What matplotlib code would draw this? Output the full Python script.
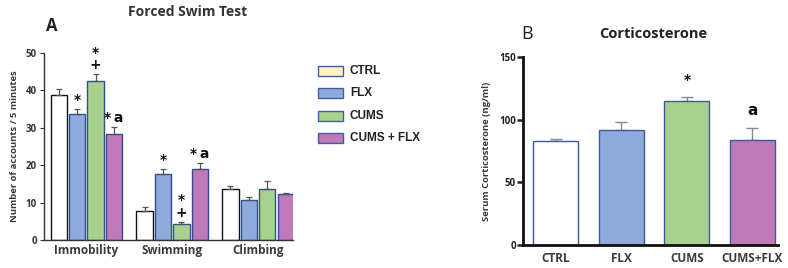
import matplotlib
matplotlib.use("Agg")
import matplotlib.pyplot as plt
import numpy as np
from matplotlib.patches import Rectangle

# ---- data ----
groups = ["CTRL", "FLX", "CUMS", "CUMS + FLX"]
fst_categories = ["Immobility", "Swimming", "Climbing"]
fst_ctrl = [38.9, 7.8, 13.6]
fst_flx = [33.6, 17.6, 10.7]
fst_cums = [42.6, 4.3, 13.6]
fst_cums_flx = [28.3, 19.0, 12.3]
fst_ctrl_err = [1.5, 1.1, 0.9]
fst_flx_err = [1.4, 1.3, 0.7]
fst_cums_err = [1.8, 0.6, 2.2]
fst_cums_flx_err = [2.0, 1.5, 0.4]
fst_marks = [["", "*", "*\n+", "*\u2009a"], ["", "*", "*\n+", "*\u2009a"], ["", "", "", ""]]

cort_labels = ["CTRL", "FLX", "CUMS", "CUMS+FLX"]
cort_values = [83, 92, 114.5, 83.5]
cort_err = [1.2, 6.5, 3.8, 10]
cort_marks = ["", "", "*", "a"]

fill_colors = ["#FFFFFF", "#8FAADC", "#A9D18E", "#C07ABA"]
legend_colors = ["#FFF2CC", "#8FAADC", "#A9D18E", "#C07ABA"]
edge_colors_a = ["#111111", "#2F4F8F", "#2F4F8F", "#2F4F8F"]
edge_b = "#3B5A9A"

fig = plt.figure(figsize=(7.88, 2.68), dpi=100)

# ---- Panel A ----
axA = fig.add_axes([44/788, 1-240/268, 249/788, 187/268])
x = np.arange(len(fst_categories))
step = 0.215
width = 0.19
series = [fst_ctrl, fst_flx, fst_cums, fst_cums_flx]
errs = [fst_ctrl_err, fst_flx_err, fst_cums_err, fst_cums_flx_err]
for i, (vals, e) in enumerate(zip(series, errs)):
    pos = x + (i - 1.5) * step
    axA.bar(pos, vals, width=width, color=fill_colors[i], edgecolor=edge_colors_a[i],
            linewidth=1.0, zorder=2)
    axA.errorbar(pos, vals, yerr=[np.zeros(len(vals)), e], fmt="none",
                 ecolor="#555555", elinewidth=0.9, capsize=2, capthick=0.9, zorder=3)
    for j in range(len(vals)):
        m = fst_marks[j][i]
        if m:
            axA.annotate(m, (pos[j], vals[j] + e[j]), xytext=(0, 1.5),
                         textcoords="offset points", ha="center", va="bottom",
                         fontsize=10, fontweight="bold", linespacing=0.85,
                         family="DejaVu Sans", color="#111111")
axA.set_xlim(-0.494, 2.407)
axA.set_ylim(0, 50)
axA.set_yticks([0, 10, 20, 30, 40, 50])
axA.set_xticks(x)
axA.set_xticklabels(fst_categories, fontsize=8.5, fontweight="bold", family="Open Sans", color="#3a3a3a")
axA.tick_params(axis="x", length=0, pad=3)
axA.tick_params(axis="y", length=3, width=0.8, labelsize=7, pad=2, colors="#333333")
for lbl in axA.get_yticklabels():
    lbl.set_fontweight("bold")
    lbl.set_family("Open Sans")
axA.set_ylabel("Number of accounts / 5 minutes", fontsize=6.8, fontweight="bold",
               family="Open Sans", color="#3a3a3a", labelpad=5)
for s in ["top", "right"]:
    axA.spines[s].set_visible(False)
for s in ["left", "bottom"]:
    axA.spines[s].set_linewidth(1.0)
    axA.spines[s].set_color("#333333")
fig.text(188/788, 1-12/268, "Forced Swim Test", ha="center", va="center", fontsize=10,
         fontweight="bold", family="Open Sans", color="#333333")
fig.text(52/788, 1-26/268, "A", ha="center", va="center", fontsize=12,
         fontweight="bold", family="Open Sans", color="#222222")

# ---- Legend ----
rows_y = [71, 93, 116, 138]
for lbl, col, yy in zip(groups, legend_colors, rows_y):
    fig.add_artist(Rectangle((318/788, 1-(yy+5)/268), 25/788, 10/268, transform=fig.transFigure,
                             facecolor=col, edgecolor="#3F5F9F", linewidth=1.0))
    fig.text(350/788, 1-yy/268, lbl, ha="left", va="center", fontsize=8.5,
             fontweight="bold", family="Liberation Sans", color="#222222")

# ---- Panel B ----
axB = fig.add_axes([523/788, 1-245/268, 255/788, 188/268])
xb = np.arange(len(cort_labels))
axB.bar(xb, cort_values, width=0.69, color=fill_colors, edgecolor=edge_b, linewidth=1.0, zorder=2)
axB.errorbar(xb, cort_values, yerr=[np.zeros(len(cort_err)), cort_err], fmt="none",
             ecolor="#888888", elinewidth=1.0, capsize=4, capthick=1.0, zorder=1)
for i, m in enumerate(cort_marks):
    if m:
        axB.annotate(m, (xb[i], cort_values[i] + cort_err[i]), xytext=(0, 7),
                     textcoords="offset points", ha="center", va="bottom",
                     fontsize=11 if m == "a" else 10, fontweight="bold",
                     family="DejaVu Sans", color="#111111")
axB.set_xlim(-0.5, 3.39)
axB.set_ylim(0, 150)
axB.set_yticks([0, 50, 100, 150])
axB.set_xticks(xb)
axB.set_xticklabels(cort_labels, fontsize=8.5, fontweight="bold", family="Open Sans", color="#3a3a3a")
axB.tick_params(axis="x", length=0, pad=5)
axB.tick_params(axis="y", length=4, width=1.8, labelsize=7, pad=1, colors="#222222")
for lbl in axB.get_yticklabels():
    lbl.set_fontweight("bold")
    lbl.set_family("Open Sans")
axB.set_ylabel("Serum Corticosterone (ng/ml)", fontsize=6.8, fontweight="bold",
               family="Open Sans", color="#3a3a3a", labelpad=6)
for s in ["top", "right"]:
    axB.spines[s].set_visible(False)
for s in ["left", "bottom"]:
    axB.spines[s].set_linewidth(2.0)
    axB.spines[s].set_color("#111111")
fig.text(653/788, 1-34/268, "Corticosterone", ha="center", va="center", fontsize=10.5,
         fontweight="bold", family="Open Sans", color="#222222")
fig.text(527/788, 1-34/268, "B", ha="center", va="center", fontsize=13,
         family="Open Sans", color="#222222")

fig.savefig("out.png", dpi=100)
